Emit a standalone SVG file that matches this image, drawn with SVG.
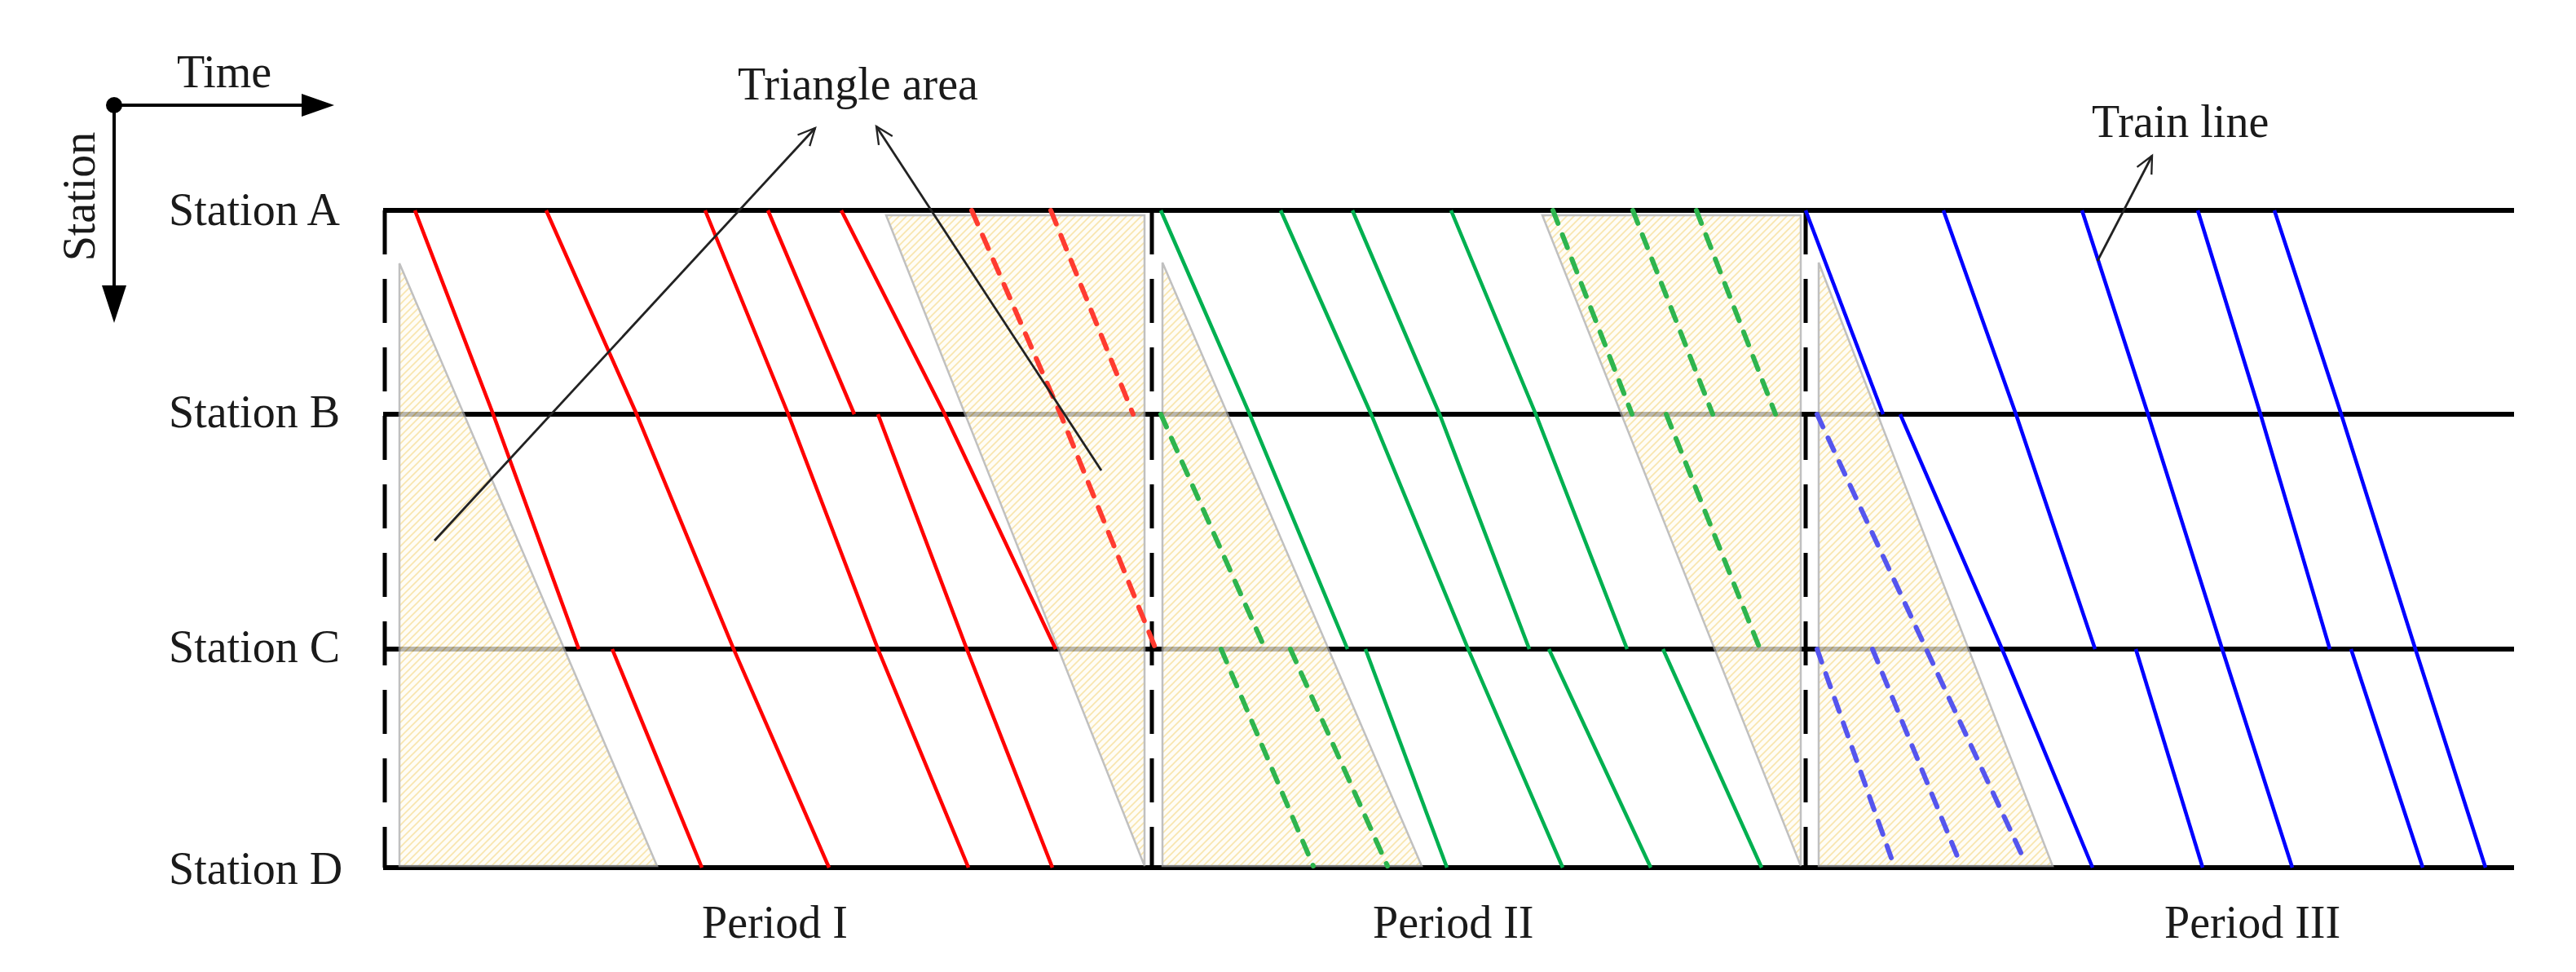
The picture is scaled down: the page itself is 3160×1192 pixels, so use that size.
<svg xmlns="http://www.w3.org/2000/svg" width="3160" height="1192" viewBox="0 0 3160 1192">
  <style>
    .lbl{font-family:"Liberation Serif","Times New Roman",serif;font-size:56px;fill:#1a1a1a}
    .st{stroke:#000;stroke-width:6;fill:none}
    .div{stroke:#000;stroke-width:5;fill:none;stroke-dasharray:54 30}
    .shade{fill:url(#hatch);stroke:#a8a8a8;stroke-width:2.5}
    .red{stroke:#ff0000;stroke-width:4.5;fill:none}
    .green{stroke:#00b050;stroke-width:4.5;fill:none}
    .blue{stroke:#0000ff;stroke-width:4.5;fill:none}
    .rdash{stroke:#ff3b30;stroke-width:6;fill:none;stroke-dasharray:18 15;stroke-linecap:round}
    .gdash{stroke:#2eb54e;stroke-width:6;fill:none;stroke-dasharray:17 15;stroke-linecap:round}
    .bdash{stroke:#5555ee;stroke-width:6;fill:none;stroke-dasharray:17 15;stroke-linecap:round}
    .ann{stroke:#222;stroke-width:2.8;fill:none;marker-end:url(#open)}
  </style>
  <defs>
    <pattern id="hatch" patternUnits="userSpaceOnUse" width="9" height="9">
      <rect width="9" height="9" fill="#fffdf3"/>
      <path d="M-2,2 L2,-2 M0,9 L9,0 M7,11 L11,7" stroke="#f7dc8e" stroke-width="1.6"/>
    </pattern>
    <marker id="open" viewBox="0 0 12 12" refX="11" refY="6" markerWidth="10" markerHeight="10" markerUnits="userSpaceOnUse" orient="auto" overflow="visible">
      <path d="M-14,-6 L11,6 L-14,18" fill="none" stroke="#222" stroke-width="2.8"/>
    </marker>
  </defs>
  <rect width="3160" height="1192" fill="#fff"/>

  <!-- axes -->
  <g id="axes">
    <circle cx="140" cy="129" r="10" fill="#000"/>
    <line x1="140" y1="129" x2="375" y2="129" stroke="#000" stroke-width="4"/>
    <polygon points="370,115 410,129 370,143" fill="#000"/>
    <line x1="140" y1="129" x2="140" y2="355" stroke="#000" stroke-width="4"/>
    <polygon points="125,350 155,350 140,396" fill="#000"/>
    <text class="lbl" x="217" y="107">Time</text>
    <text class="lbl" text-anchor="middle" transform="translate(116,241) rotate(-90)">Station</text>
  </g>

  <!-- stations -->
  <g id="stations">
    <line class="st" x1="470" y1="258" x2="3084" y2="258"/>
    <line class="st" x1="470" y1="508" x2="3084" y2="508"/>
    <line class="st" x1="470" y1="796" x2="3084" y2="796"/>
    <line class="st" x1="470" y1="1064" x2="3084" y2="1064"/>
    <text class="lbl" x="207" y="276">Station A</text>
    <text class="lbl" x="207" y="524">Station B</text>
    <text class="lbl" x="207" y="812">Station C</text>
    <text class="lbl" x="207" y="1084">Station D</text>
  </g>

  <!-- triangle areas -->
  <g id="areas" opacity="0.72">
    <polygon class="shade" points="490,323 490,1062 806,1062"/>
    <polygon class="shade" points="1087,264 1404,264 1404,1062"/>
    <polygon class="shade" points="1426,322 1426,1062 1744,1062"/>
    <polygon class="shade" points="1892,264 2209,264 2209,1062"/>
    <polygon class="shade" points="2231,322 2231,1062 2518,1062"/>
  </g>

  <!-- period dividers -->
  <g id="dividers">
    <line class="div" x1="472" y1="258" x2="472" y2="1064"/>
    <line class="div" x1="1413" y1="258" x2="1413" y2="1064"/>
    <line class="div" x1="2215" y1="258" x2="2215" y2="1064"/>
  </g>

  <!-- train lines -->
  <g id="trains-dashed">
    <polyline class="rdash" points="1192,258 1301,508 1417,794"/>
    <polyline class="rdash" points="1289,258 1390,508"/>
    <polyline class="gdash" points="1424,508 1552,796"/>
    <polyline class="gdash" points="1498,796 1611,1062"/>
    <polyline class="gdash" points="1583,796 1702,1062"/>
    <polyline class="gdash" points="1905,258 2002,508"/>
    <polyline class="gdash" points="2044,508 2159,796"/>
    <polyline class="gdash" points="2003,258 2101,508"/>
    <polyline class="gdash" points="2081,258 2178,508"/>
    <polyline class="bdash" points="2229,508 2481,1050"/>
    <polyline class="bdash" points="2229,796 2320,1052"/>
    <polyline class="bdash" points="2297,796 2401,1050"/>
  </g>
  <g id="trains-solid">
    <polyline class="red" points="509,258 605,508 710,796"/>
    <polyline class="red" points="751,796 861,1064"/>
    <polyline class="red" points="670,258 781,508 900,796 1017,1064"/>
    <polyline class="red" points="865,258 967,508 1077,796 1188,1064"/>
    <polyline class="red" points="942,258 1048,508"/>
    <polyline class="red" points="1077,508 1186,796 1291,1064"/>
    <polyline class="red" points="1032,258 1159,508 1295,796"/>

    <polyline class="green" points="1424,258 1533,508 1653,796"/>
    <polyline class="green" points="1675,796 1775,1064"/>
    <polyline class="green" points="1571,258 1682,508 1801,796 1917,1064"/>
    <polyline class="green" points="1659,258 1766,508 1876,796"/>
    <polyline class="green" points="1900,796 2025,1064"/>
    <polyline class="green" points="1780,258 1884,508 1996,796"/>
    <polyline class="green" points="2040,796 2161,1064"/>

    <polyline class="blue" points="2215,258 2310,508"/>
    <polyline class="blue" points="2331,508 2456,796 2567,1064"/>
    <polyline class="blue" points="2384,258 2473,508 2570,796"/>
    <polyline class="blue" points="2620,796 2702,1064"/>
    <polyline class="blue" points="2554,258 2635,508 2726,796 2812,1064"/>
    <polyline class="blue" points="2696,258 2773,508 2858,796"/>
    <polyline class="blue" points="2884,796 2972,1064"/>
    <polyline class="blue" points="2790,258 2872,508 2963,796 3049,1064"/>
  </g>

  <!-- annotations -->
  <g id="connectors">
    <line class="ann" x1="533" y1="663" x2="1000" y2="157"/>
    <line class="ann" x1="1351" y1="577" x2="1075" y2="155"/>
    <line class="ann" x1="2573" y1="320" x2="2640" y2="191"/>
  </g>
  <g id="labels">
    <text class="lbl" x="905" y="122">Triangle area</text>
    <text class="lbl" x="2566" y="168">Train line</text>
    <text class="lbl" x="861" y="1150">Period I</text>
    <text class="lbl" x="1684" y="1150">Period II</text>
    <text class="lbl" x="2655" y="1150">Period III</text>
  </g>
</svg>
